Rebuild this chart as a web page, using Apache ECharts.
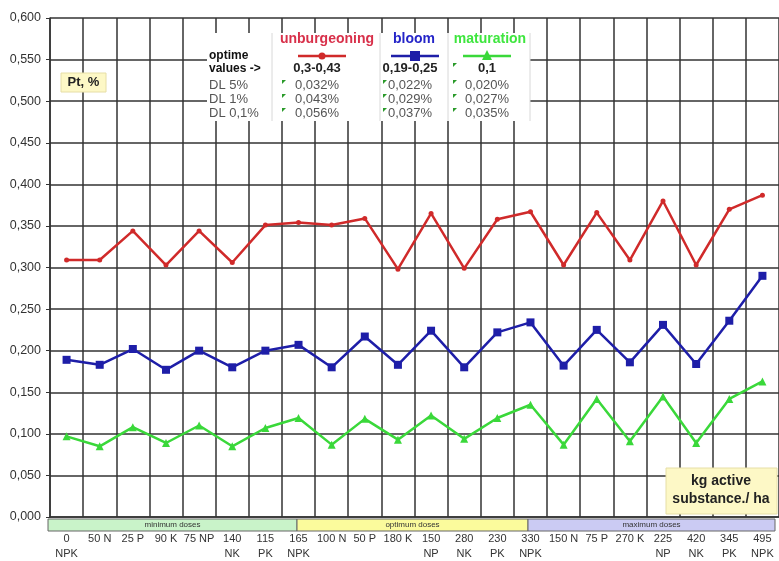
<!DOCTYPE html>
<html>
<head>
<meta charset="utf-8">
<script src="https://cdn.jsdelivr.net/npm/echarts@6/dist/echarts.min.js"></script>
<style>
html,body{margin:0;padding:0;background:#fff;}
#chart{width:779px;height:561px;}
</style>
</head>
<body>
<div id="chart"></div>
<script>
// ---- data ----
const categories = ['0\nNPK','50 N','25 P','90 K','75 NP','140\nNK','115\nPK','165\nNPK',
  '100 N','50 P','180 K','150\nNP','280\nNK','230\nPK','330\nNPK',
  '150 N','75 P','270 K','225\nNP','420\nNK','345\nPK','495\nNPK'];
const unburgeoning = [0.309,0.309,0.344,0.303,0.344,0.306,0.351,0.354,0.351,0.359,0.298,
  0.365,0.299,0.358,0.367,0.303,0.366,0.309,0.380,0.303,0.370,0.387];
const bloom = [0.189,0.183,0.202,0.177,0.200,0.180,0.200,0.207,0.180,0.217,0.183,
  0.224,0.180,0.222,0.234,0.182,0.225,0.186,0.231,0.184,0.236,0.290];
const maturation = [0.097,0.085,0.108,0.089,0.110,0.085,0.107,0.119,0.087,0.118,0.093,
  0.122,0.094,0.119,0.135,0.087,0.142,0.091,0.145,0.089,0.142,0.163];
const seriesNames = ['unburgeoning','bloom','maturation'];
const optimeValues = ['0,3-0,43','0,19-0,25','0,1'];
const dl5 = ['0,032%','0,022%','0,020%'];
const dl1 = ['0,043%','0,029%','0,027%'];
const dl01 = ['0,056%','0,037%','0,035%'];
const rowLabels = ['optime','values ->','DL 5%','DL 1%','DL 0,1%'];
const doseGroups = ['minimum doses','optimum doses','maximum doses'];

// ---- styles ----
const FONT = 'Liberation Sans, Arial, sans-serif';
const colors = ['#d02a2a','#1e1ea8','#3ad83a'];
const headColors = ['#d8304a','#2424c8','#3ee63e'];
const gridColor = '#333';

const chart = echarts.init(document.getElementById('chart'), null, {renderer:'canvas'});

const g = [];
// table background
g.push({type:'rect', z:100, shape:{x:207,y:33,width:323,height:88}, style:{fill:'#fff'}});
[272,380,448,530].forEach(x=>g.push({type:'line', z:101, shape:{x1:x,y1:33,x2:x,y2:121}, style:{stroke:'#d8d8d8',lineWidth:1}}));
const colHead = [327,414,490];
const colVal = [317,410,487];
const colSym = [322,415,487];
seriesNames.forEach((n,i)=>g.push({type:'text', z:102, style:{text:n, x:colHead[i], y:39, align:'center', verticalAlign:'middle', font:'bold 14px '+FONT, fill:headColors[i]}}));
const rowY = [56,68.5,85,99,113];
rowLabels.forEach((t,i)=>g.push({type:'text', z:102, style:{text:t, x:209, y:rowY[i], align:'left', verticalAlign:'middle',
  font:(i<2?'bold 12px ':'13px ')+FONT, fill:i<2?'#111':'#555'}}));
// legend symbols in table
colSym.forEach((cx,i)=>{
  g.push({type:'line', z:102, shape:{x1:cx-24,y1:56,x2:cx+24,y2:56}, style:{stroke:colors[i],lineWidth:2.5}});
});
g.push({type:'circle', z:103, shape:{cx:colSym[0],cy:56,r:3.5}, style:{fill:colors[0]}});
g.push({type:'rect', z:103, shape:{x:colSym[1]-5,y:51,width:10,height:10}, style:{fill:colors[1]}});
g.push({type:'polygon', z:103, shape:{points:[[colSym[2],50],[colSym[2]-5,60],[colSym[2]+5,60]]}, style:{fill:colors[2]}});
optimeValues.forEach((t,i)=>g.push({type:'text', z:102, style:{text:t, x:colVal[i], y:68.5, align:'center', verticalAlign:'middle', font:'bold 13px '+FONT, fill:'#222'}}));
[dl5,dl1,dl01].forEach((arr,r)=>arr.forEach((t,i)=>g.push({type:'text', z:102, style:{text:t, x:colVal[i], y:rowY[r+2], align:'center', verticalAlign:'middle', font:'13px '+FONT, fill:'#555'}})));
// small green cell markers
[[453,63],[282,80],[383,80],[453,80],[282,94],[383,94],[453,94],[282,108],[383,108],[453,108]].forEach(p=>
  g.push({type:'polygon', z:103, shape:{points:[[p[0],p[1]],[p[0]+4,p[1]],[p[0],p[1]+4]]}, style:{fill:'#2a9a2a'}}));

// Pt box
g.push({type:'rect', z:100, shape:{x:61,y:73,width:45,height:19}, style:{fill:'#fdf8c6',stroke:'#e6dea6',lineWidth:1}});
g.push({type:'text', z:101, style:{text:'Pt, %', x:83.5, y:82.5, align:'center', verticalAlign:'middle', font:'bold 13px '+FONT, fill:'#222'}});
// kg box
g.push({type:'rect', z:100, shape:{x:666,y:468,width:111,height:46}, style:{fill:'#fdf8c6',stroke:'#e6dea6',lineWidth:1}});
g.push({type:'text', z:101, style:{text:'kg active', x:721, y:481, align:'center', verticalAlign:'middle', font:'bold 14px '+FONT, fill:'#222'}});
g.push({type:'text', z:101, style:{text:'substance./ ha', x:721, y:499, align:'center', verticalAlign:'middle', font:'bold 14px '+FONT, fill:'#222'}});

// dose bands
const bands = [[48,297,'#c9f3c9'],[297,528,'#fbfb9c'],[528,775,'#cbcbf3']];
bands.forEach((b,i)=>{
  g.push({type:'rect', z:100, shape:{x:b[0],y:519,width:b[1]-b[0],height:12}, style:{fill:b[2],stroke:'#666',lineWidth:1}});
  g.push({type:'text', z:101, style:{text:doseGroups[i], x:(b[0]+b[1])/2, y:525, align:'center', verticalAlign:'middle', font:'8px '+FONT, fill:'#333'}});
});

const mk = (name, data, color, symbol, size) => ({
  name, type:'line', data, symbol, symbolSize:size, z:5,
  lineStyle:{color, width:2.5}, itemStyle:{color}, animation:false
});

chart.setOption({
  animation:false,
  grid:{left:50, right:-4.7, top:18, bottom:40},
  xAxis:{
    type:'category', data:categories, boundaryGap:true,
    axisLine:{show:true, lineStyle:{color:gridColor, width:1.5}},
    axisTick:{show:false},
    splitLine:{show:true, interval:0, lineStyle:{color:gridColor, width:1.5}},
    axisLabel:{interval:0, fontFamily:FONT, fontSize:11, color:'#333', margin:14, lineHeight:15}
  },
  yAxis:{
    type:'value', min:0, max:0.6, interval:0.05,
    axisLine:{show:true, lineStyle:{color:gridColor, width:1.5}},
    axisTick:{show:true, length:4, lineStyle:{color:gridColor}},
    splitLine:{show:true, lineStyle:{color:gridColor, width:1.5}},
    axisLabel:{fontFamily:FONT, fontSize:12.5, color:'#333', margin:9,
      formatter:v=>v.toFixed(3).replace('.',',')}
  },
  series:[
    mk(seriesNames[0], unburgeoning, colors[0], 'circle', 5),
    mk(seriesNames[1], bloom, colors[1], 'rect', 8),
    mk(seriesNames[2], maturation, colors[2], 'triangle', 8)
  ],
  graphic:g
});
</script>
</body>
</html>
